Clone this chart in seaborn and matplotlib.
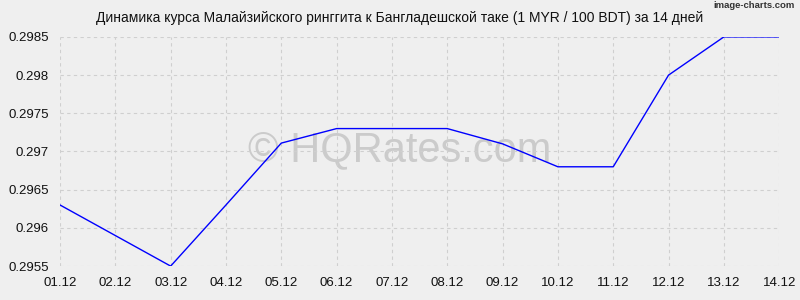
import matplotlib
matplotlib.use("Agg")
import matplotlib.pyplot as plt
import seaborn as sns
import pandas as pd

dates = ["01.12", "02.12", "03.12", "04.12", "05.12", "06.12", "07.12",
         "08.12", "09.12", "10.12", "11.12", "12.12", "13.12", "14.12"]
rates = [0.2963, 0.2959, 0.2955, 0.2963, 0.29711, 0.2973, 0.2973,
         0.2973, 0.2971, 0.2968, 0.2968, 0.2980, 0.2985, 0.2985]
yticks = [0.2955, 0.296, 0.2965, 0.297, 0.2975, 0.298, 0.2985]
ytick_labels = ["0.2955", "0.296", "0.2965", "0.297", "0.2975", "0.298", "0.2985"]
title = "Динамика курса Малайзийского ринггита к Бангладешской таке (1 MYR / 100 BDT) за 14 дней"

sns.set_theme(style="white")
plt.rcParams['font.family'] = ['Liberation Sans', 'DejaVu Sans']

df = pd.DataFrame({"pos": range(len(dates)), "rate": rates})

fig = plt.figure(figsize=(8, 3), dpi=100, facecolor="#efefef")
ax = fig.add_axes([0.075, 0.113, 0.899, 0.764])
ax.set_facecolor("#efefef")

ax.text(0.5, 0.5, "© HQRates.com", transform=fig.transFigure, ha="center", va="center",
        fontsize=30, color="#cbcbcb", zorder=0.2)

sns.lineplot(data=df, x="pos", y="rate", ax=ax, color="#0000ff", linewidth=1.0, zorder=3)

ax.set_xlim(0, len(dates) - 1)
ax.set_ylim(0.2955, 0.2985)
ax.set_xticks(range(len(dates)))
ax.set_xticklabels(dates)
ax.set_yticks(yticks)
ax.set_yticklabels(ytick_labels)
ax.set_xlabel("")
ax.set_ylabel("")
ax.tick_params(axis="both", length=0, labelsize=9.5, colors="#111111", pad=8)
ax.grid(True, linestyle=(0, (3, 3)), color="#cfcfcf", linewidth=0.8, zorder=0.5)
ax.set_axisbelow(True)
for s in ax.spines.values():
    s.set_visible(False)

fig.text(0.5, 0.94, title, ha="center", va="center", fontsize=10, color="#111111")
fig.text(0.994, 0.995, "image-charts.com", ha="right", va="top", fontsize=6.8,
         color="#333333", fontweight="bold")

fig.savefig("out.png", dpi=100, facecolor=fig.get_facecolor())
